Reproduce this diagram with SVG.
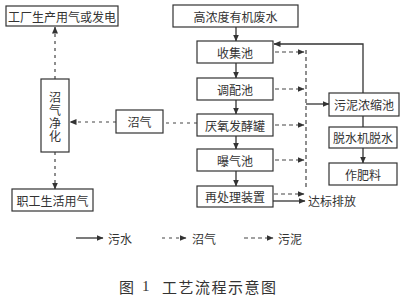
<svg xmlns="http://www.w3.org/2000/svg" width="402" height="296" viewBox="0 0 402 296">
<style>
.box{fill:#fff;stroke:#333;stroke-width:1.2}
.t{font-family:"Noto Sans CJK SC","Noto Sans CJK JP",sans-serif;font-size:12px;fill:#333;text-anchor:middle;dominant-baseline:central}
.w{fill:none;stroke:#333;stroke-width:1.3}
.g{fill:none;stroke:#444;stroke-width:1.2;stroke-dasharray:3 4}
.s{fill:none;stroke:#444;stroke-width:1.2;stroke-dasharray:4 3}
.c{font-family:"Noto Sans CJK SC","Noto Sans CJK JP",sans-serif;font-size:15px;fill:#333;dominant-baseline:central}
</style>
<defs>
<marker id="a" markerWidth="7" markerHeight="6" refX="6.5" refY="3" orient="auto" markerUnits="userSpaceOnUse"><path d="M0,0 L7,3 L0,6 z" fill="#333"/></marker>
</defs>
<rect width="402" height="296" fill="#fff"/>
<g id="connectors">
<line class="w" x1="236" y1="27" x2="236" y2="41" marker-end="url(#a)"/>
<line class="w" x1="236" y1="63" x2="236" y2="78" marker-end="url(#a)"/>
<line class="w" x1="236" y1="100" x2="236" y2="114" marker-end="url(#a)"/>
<line class="w" x1="236" y1="136" x2="236" y2="149" marker-end="url(#a)"/>
<line class="w" x1="236" y1="171" x2="236" y2="186" marker-end="url(#a)"/>
<line class="s" x1="275" y1="52" x2="304" y2="52" marker-end="url(#a)"/>
<line class="s" x1="275" y1="89" x2="304" y2="89" marker-end="url(#a)"/>
<line class="s" x1="275" y1="125" x2="304" y2="125" marker-end="url(#a)"/>
<line class="s" x1="275" y1="160" x2="304" y2="160" marker-end="url(#a)"/>
<line class="s" x1="274" y1="194" x2="304" y2="194" marker-end="url(#a)"/>
<line class="s" x1="306" y1="50" x2="306" y2="188"/>
<line class="w" x1="306" y1="104" x2="329" y2="104" marker-end="url(#a)"/>
<line class="w" x1="363" y1="116" x2="363" y2="127"/>
<line class="w" x1="363" y1="148" x2="363" y2="163" marker-end="url(#a)"/>
<polyline class="w" points="363,93 363,44 274,44" marker-end="url(#a)"/>
<line class="w" x1="273" y1="201" x2="305" y2="201" marker-end="url(#a)"/>
<line class="g" x1="197" y1="123" x2="163" y2="123"/>
<line class="g" x1="116" y1="122" x2="70" y2="122" marker-end="url(#a)"/>
<line class="g" x1="55" y1="79" x2="55" y2="27" marker-end="url(#a)"/>
<line class="g" x1="55" y1="152" x2="55" y2="189" marker-end="url(#a)"/>
</g>
<g id="n1"><rect class="box" x="6" y="6" width="112" height="20"/><text class="t" x="62" y="16">工厂生产用气或发电</text></g>
<g id="n2"><rect class="box" x="173" y="5" width="125" height="22"/><text class="t" x="235.5" y="16">高浓度有机废水</text></g>
<g id="n3"><rect class="box" x="197" y="41" width="76" height="22"/><text class="t" x="235" y="52">收集池</text></g>
<g id="n4"><rect class="box" x="197" y="78" width="76" height="22"/><text class="t" x="235" y="89">调配池</text></g>
<g id="n5"><rect class="box" x="197" y="114" width="76" height="22"/><text class="t" x="235" y="125">厌氧发酵罐</text></g>
<g id="n6"><rect class="box" x="197" y="149" width="76" height="22"/><text class="t" x="235" y="160">曝气池</text></g>
<g id="n7"><rect class="box" x="197" y="186" width="76" height="21"/><text class="t" x="235" y="196.5">再处理装置</text></g>
<g id="n8"><rect class="box" x="116" y="110" width="47" height="23"/><text class="t" x="139.5" y="121.5">沼气</text></g>
<g id="n9"><rect class="box" x="41" y="79" width="28" height="73"/>
<text class="t" x="55" y="117" style="writing-mode:vertical-rl;letter-spacing:1px">沼气净化</text></g>
<g id="n10"><rect class="box" x="12" y="189" width="81" height="22"/><text class="t" x="52.5" y="200">职工生活用气</text></g>
<g id="n11"><rect class="box" x="329" y="93" width="70" height="23"/><text class="t" x="364" y="104.5">污泥浓缩池</text></g>
<g id="n12"><rect class="box" x="329" y="127" width="68" height="21"/><text class="t" x="363" y="137.5">脱水机脱水</text></g>
<g id="n13"><rect class="box" x="329" y="163" width="68" height="22"/><text class="t" x="363" y="174">作肥料</text></g>
<g id="n14"><text class="t" x="308" y="200" style="text-anchor:start">达标排放</text></g>
<g id="legend">
<line class="w" x1="76" y1="238" x2="103" y2="238" marker-end="url(#a)"/>
<text class="t" x="108" y="238" style="text-anchor:start">污水</text>
<line class="g" x1="162" y1="238" x2="186" y2="238" marker-end="url(#a)"/>
<text class="t" x="192" y="238" style="text-anchor:start">沼气</text>
<line class="s" x1="244" y1="238" x2="273" y2="238" marker-end="url(#a)"/>
<text class="t" x="278" y="238" style="text-anchor:start">污泥</text>
</g>
<g id="caption">
<text class="c" x="119" y="286">图</text>
<text x="142" y="286" style="font-family:'Liberation Serif',serif;font-size:15px;fill:#333;dominant-baseline:central">1</text>
<text class="c" x="162" y="286" style="letter-spacing:1.5px">工艺流程示意图</text>
</g>
</svg>
